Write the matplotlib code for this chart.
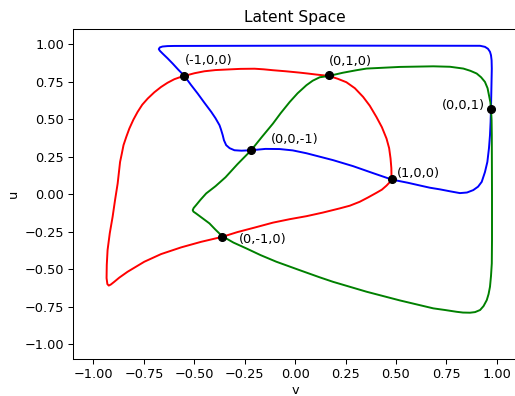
import matplotlib.pyplot as plt

# curve through the z=0 points (red)
red_v = [0.168, 0.211, 0.254, 0.296, 0.337, 0.370, 0.403, 0.430, 0.453, 0.466, 0.473, 0.477,
         0.478, 0.467, 0.453, 0.430, 0.403, 0.360, 0.320, 0.271, 0.221, 0.137, 0.056, -0.027,
         -0.110, -0.201, -0.286, -0.362, -0.466, -0.565, -0.665, -0.748, -0.831, -0.872, -0.897,
         -0.914, -0.924, -0.931, -0.935, -0.934, -0.930, -0.919, -0.905, -0.893, -0.880, -0.868,
         -0.859, -0.851, -0.837, -0.822, -0.802, -0.781, -0.758, -0.731, -0.698, -0.665, -0.633,
         -0.599, -0.574, -0.549, -0.499, -0.450, -0.395, -0.334, -0.271, -0.201, -0.156, -0.110,
         -0.047, 0.022, 0.062, 0.105, 0.168]
red_u = [0.789, 0.770, 0.747, 0.707, 0.649, 0.590, 0.515, 0.447, 0.371, 0.307, 0.238, 0.173,
         0.098, 0.077, 0.057, 0.030, 0.009, -0.023, -0.051, -0.077, -0.095, -0.123, -0.147, -0.167,
         -0.190, -0.223, -0.253, -0.285, -0.318, -0.355, -0.400, -0.451, -0.518, -0.557, -0.585,
         -0.603, -0.610, -0.600, -0.560, -0.473, -0.373, -0.260, -0.151, -0.040, 0.071, 0.215,
         0.273, 0.327, 0.383, 0.438, 0.497, 0.549, 0.597, 0.638, 0.680, 0.715, 0.743,
         0.767, 0.779, 0.789, 0.807, 0.820, 0.828, 0.832, 0.836, 0.837, 0.833, 0.827,
         0.820, 0.811, 0.805, 0.798, 0.789]

# curve through the y=0 points (blue)
blue_v = [-0.549, -0.517, -0.483, -0.450, -0.416, -0.395, -0.375, -0.368, -0.359, -0.353, -0.342,
          -0.325, -0.301, -0.266, -0.218, -0.147, -0.077, -0.012, 0.056, 0.122, 0.188, 0.287,
          0.387, 0.478, 0.503, 0.559, 0.618, 0.668, 0.718, 0.768, 0.817, 0.852, 0.883, 0.907,
          0.925, 0.941, 0.953, 0.961, 0.966, 0.969, 0.971, 0.975, 0.974, 0.971, 0.966, 0.956,
          0.941, 0.917, 0.122, -0.599, -0.633, -0.658, -0.671, -0.676, -0.671, -0.657, -0.633,
          -0.607, -0.579, -0.549]
blue_u = [0.789, 0.730, 0.671, 0.610, 0.549, 0.507, 0.460, 0.433, 0.393, 0.360, 0.327,
          0.307, 0.293, 0.290, 0.293, 0.302, 0.301, 0.292, 0.273, 0.250, 0.227, 0.187,
          0.140, 0.098, 0.091, 0.076, 0.058, 0.043, 0.032, 0.019, 0.007, 0.011, 0.027, 0.050,
          0.082, 0.147, 0.215, 0.307, 0.393, 0.480, 0.571, 0.838, 0.893, 0.927, 0.950, 0.970,
          0.983, 0.990, 0.991, 0.989, 0.988, 0.985, 0.979, 0.968, 0.957, 0.938, 0.907,
          0.871, 0.830, 0.789]

# curve through the x=0 points (green)
green_v = [0.168, 0.236, 0.304, 0.354, 0.519, 0.685, 0.768, 0.834, 0.869, 0.900, 0.922, 0.941,
           0.954, 0.961, 0.968, 0.971, 0.974, 0.975, 0.976, 0.976, 0.975, 0.971, 0.966, 0.959,
           0.950, 0.934, 0.917, 0.892, 0.867, 0.832, 0.801, 0.743, 0.685, 0.519, 0.354, 0.188,
           0.122, 0.022, -0.093, -0.171, -0.242, -0.306, -0.362, -0.395, -0.425, -0.460, -0.491,
           -0.504, -0.508, -0.503, -0.491, -0.469, -0.441, -0.395, -0.345, -0.286, -0.218, -0.166,
           -0.110, -0.072, -0.027, 0.012, 0.056, 0.087, 0.122, 0.168]
green_u = [0.789, 0.810, 0.827, 0.838, 0.849, 0.853, 0.850, 0.838, 0.823, 0.805, 0.780, 0.749,
           0.707, 0.660, 0.613, 0.571, 0.493, 0.393, -0.007, -0.307, -0.462, -0.547, -0.618, -0.667,
           -0.707, -0.747, -0.773, -0.787, -0.791, -0.790, -0.785, -0.773, -0.762, -0.709, -0.651, -0.585,
           -0.555, -0.507, -0.451, -0.407, -0.362, -0.323, -0.280, -0.237, -0.195, -0.160, -0.129,
           -0.117, -0.107, -0.092, -0.073, -0.037, 0.005, 0.053, 0.113, 0.200, 0.293, 0.380,
           0.471, 0.540, 0.615, 0.673, 0.727, 0.757, 0.780, 0.789]

labels = ['(-1,0,0)', '(0,1,0)', '(0,0,1)', '(0,0,-1)', '(1,0,0)', '(0,-1,0)']
pts_v = [-0.549, 0.166, 0.972, -0.220, 0.479, -0.363]
pts_u = [0.789, 0.792, 0.571, 0.293, 0.098, -0.283]
# label offsets in pixels (text centre relative to point)
offsets = [(0, 15), (0, 14), (-6, 3), (20, 11), (5, 6), (17, -3)]
aligns = ['left', 'left', 'right', 'left', 'left', 'left']

# reference looks like a 100 dpi figure shrunk a little, so draw at 93 dpi
fig = plt.figure(figsize=(515 / 93, 396 / 93), dpi=93)
ax = fig.add_axes([0.1423, 0.0934, 0.8616, 0.8326])

ax.plot(red_v, red_u, color='red')
ax.plot(blue_v, blue_u, color='blue')
ax.plot(green_v, green_u, color='green')
ax.scatter(pts_v, pts_u, color='black', zorder=3)

for lab, v, u, off, ha in zip(labels, pts_v, pts_u, offsets, aligns):
    ax.annotate(lab, (v, u), xytext=off, textcoords='offset pixels', ha=ha, va='center')

ax.set_xlim(-1.1, 1.1)
ax.set_ylim(-1.1, 1.1)
ax.set_xticks([-1.0, -0.75, -0.5, -0.25, 0.0, 0.25, 0.5, 0.75, 1.0])
ax.set_xlabel('v', labelpad=2)
ax.set_ylabel('u')
ax.set_title('Latent Space')

fig.savefig('out.png', dpi=93)
